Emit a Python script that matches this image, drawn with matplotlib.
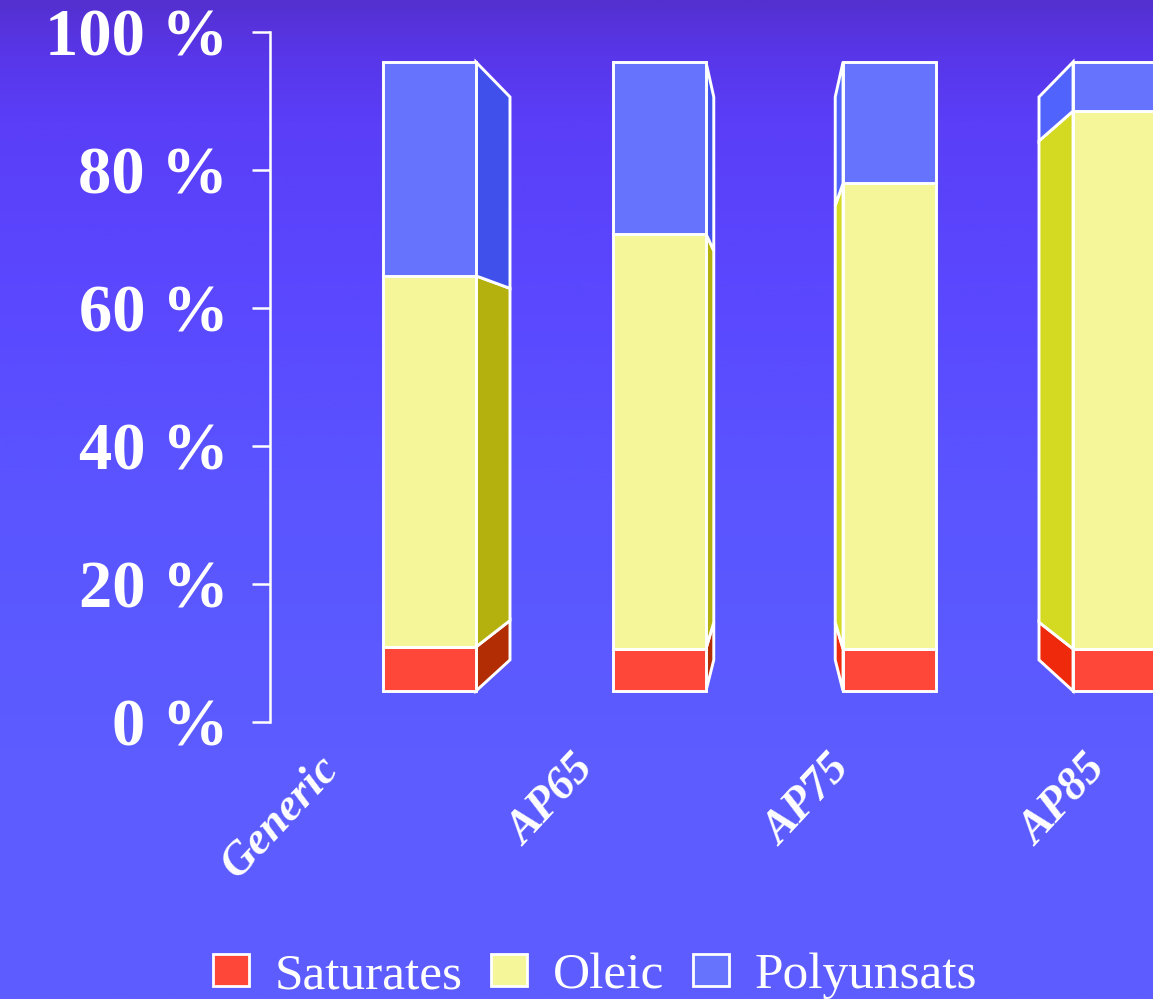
import numpy as np
import matplotlib
matplotlib.use('Agg')
import matplotlib.pyplot as plt
from matplotlib.patches import Polygon, Patch
from matplotlib.colors import LinearSegmentedColormap

# ---------------- data ----------------
categories = ['Generic', 'AP65', 'AP75', 'AP85']
series_names = ['Saturates', 'Oleic', 'Polyunsats']
saturates = [7.0, 6.7, 6.7, 6.7]
oleic = [59.0, 66.0, 74.0, 85.5]
polyunsats = [34.0, 27.3, 19.3, 7.8]
y_ticks = [0, 20, 40, 60, 80, 100]
y_tick_labels = ['0 %', '20 %', '40 %', '60 %', '80 %', '100 %']

# ---------------- styles ----------------
front_colors = ['#ff4739', '#f5f59a', '#6673fd']
right_side_colors = ['#b22c04', '#b4b00e', '#3f51ea']
left_side_colors = ['#ef2a0c', '#d4da22', '#5064fd']
edge = 'white'
lw = 2.1

W, H = 1153, 999
fig = plt.figure(figsize=(W / 100, H / 100), dpi=100)

# background gradient
bg = fig.add_axes([0, 0, 1, 1])
bg.axis('off')
cmap = LinearSegmentedColormap.from_list(
    'bg', [(0.0, '#5430d0'), (0.05, '#5836e8'), (0.12, '#5a3ef8'),
           (0.3, '#5a48ff'), (0.5, '#5a55ff'), (0.75, '#5c5cff'), (1.0, '#5e5eff')])
bg.imshow(np.linspace(0, 1, 512).reshape(-1, 1), aspect='auto', cmap=cmap)

# main (bar) axes: front plane of the bars
px_left, px_right = 270, W
x0_px, unit_px = 429.5, 230.0
bar_bottom_px, bar_top_px = 691, 62
ax = fig.add_axes([px_left / W, (H - bar_bottom_px) / H,
                   (px_right - px_left) / W, (bar_bottom_px - bar_top_px) / H])
ax.set_xlim((px_left - x0_px) / unit_px, (px_right - x0_px) / unit_px)
ax.set_ylim(0, 100)
ax.axis('off')
ax.patch.set_visible(False)

# perspective parameters
vx = 1.5
vy = (bar_bottom_px - 395) / (bar_bottom_px - bar_top_px) * 100
tx, ty = 0.114, 0.105
bw = 0.404

def back(x, y):
    return x + tx * (vx - x), y + ty * (vy - y)

values = np.array([saturates, oleic, polyunsats], dtype=float)
values = values / values.sum(axis=0) * 100
bottoms = np.vstack([np.zeros(values.shape[1]), np.cumsum(values, axis=0)[:-1]])
xs = np.arange(len(categories))

# side faces
for i, xc in enumerate(xs):
    xl, xr = xc - bw / 2, xc + bw / 2
    if xc < vx:
        xe, cols = xr, right_side_colors
    else:
        xe, cols = xl, left_side_colors
    for s in range(len(series_names)):
        y0 = bottoms[s, i]
        y1 = y0 + values[s, i]
        pts = [(xe, y0), (xe, y1), back(xe, y1), back(xe, y0)]
        ax.add_patch(Polygon(pts, closed=True, facecolor=cols[s], edgecolor=edge,
                             lw=lw, joinstyle='miter', clip_on=False, zorder=2))

# front faces
for s in range(len(series_names)):
    ax.bar(xs, values[s], bottom=bottoms[s], width=bw, color=front_colors[s],
           edgecolor=edge, linewidth=lw, clip_on=False, zorder=3)

# category labels (front/axis plane)
label_font = dict(family='Liberation Serif', weight='bold', style='italic', size=33)
for i, cat in enumerate(categories):
    lx = 1.5 + 1.113 * (i - 1.5) - 0.22
    ax.text(lx, (bar_bottom_px - 770) / (bar_bottom_px - bar_top_px) * 100, cat,
            rotation=47, rotation_mode='anchor', ha='right', va='baseline',
            color='white', fontdict=label_font, clip_on=False)

# value axis (drawn on the front plane)
axis_bottom_px, axis_top_px = 722, 32
ay = fig.add_axes([px_left / W, (H - axis_bottom_px) / H, 0.0005,
                   (axis_bottom_px - axis_top_px) / H])
ay.patch.set_visible(False)
ay.set_ylim(0, 100)
for sp in ['right', 'top', 'bottom']:
    ay.spines[sp].set_visible(False)
ay.spines['left'].set_color('white')
ay.spines['left'].set_linewidth(1.8)
ay.set_xticks([])
ay.set_yticks(y_ticks)
ay.set_yticklabels(y_tick_labels)
ay.tick_params(axis='y', direction='out', length=13, width=1.8, color='white',
               pad=17, labelcolor='white')
for t in ay.get_yticklabels():
    t.set_fontfamily('Liberation Serif')
    t.set_fontweight('bold')
    t.set_fontsize(48)

# legend
handles = [Patch(facecolor=c, edgecolor='white', linewidth=2) for c in front_colors]
fig.legend(handles, series_names, loc='center', bbox_to_anchor=(595 / W, 1 - 976 / H),
           ncol=3, frameon=False, handlelength=0.7, handleheight=0.6,
           handletextpad=0.5, columnspacing=0.55, labelcolor='white',
           prop=dict(family='Liberation Serif', size=37))

fig.savefig('out.png', dpi=100)
